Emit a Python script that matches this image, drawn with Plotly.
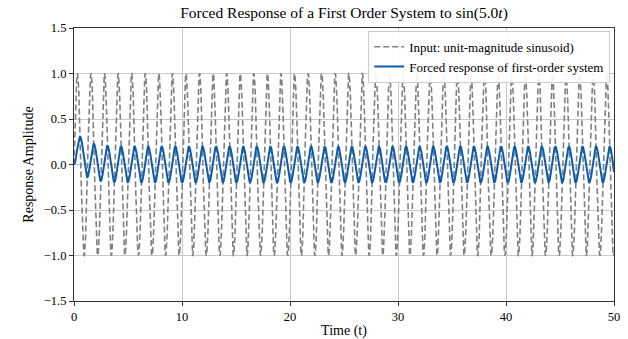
import numpy as np
import plotly.graph_objects as go

# Data definition (system read from title / picture)
input_freq = 5.0          # rad/s, from title sin(5.0 t)
system_pole = 1.0         # first-order system 1/(s+a)
t_start, t_end = 0.0, 50.0
n_samples = 2000

t = np.linspace(t_start, t_end, n_samples)
u = np.sin(input_freq * t)
a, w = system_pole, input_freq
y = (w * np.exp(-a * t) + a * np.sin(w * t) - w * np.cos(w * t)) / (a**2 + w**2)

x_ticks = [0, 10, 20, 30, 40, 50]
y_ticks = [-1.5, -1.0, -0.5, 0.0, 0.5, 1.0, 1.5]
y_tick_labels = ["\u22121.5", "\u22121.0", "\u22120.5", "0.0", "0.5", "1.0", "1.5"]

FONT = "Liberation Serif, DejaVu Serif, serif"

fig = go.Figure()
fig.add_trace(go.Scatter(
    x=t, y=u, mode="lines",
    name="Input: unit-magnitude sinusoid)",
    line=dict(color="#808080", width=1.6, dash="6px,3px"),
))
fig.add_trace(go.Scatter(
    x=t, y=y, mode="lines",
    name="Forced response of first-order system",
    line=dict(color="#0b5cad", width=2),
))

fig.update_layout(
    width=628, height=339,
    margin=dict(l=74, r=14, t=28, b=38, autoexpand=False),
    paper_bgcolor="white", plot_bgcolor="white",
    font=dict(family=FONT, size=12, color="black"),
    title=dict(text="Forced Response of a First Order System to sin(5.0<i>t</i>)",
               x=0.5, xref="paper", xanchor="center",
               yref="container", y=0.962, yanchor="middle",
               font=dict(family=FONT, size=15.5, color="black")),
    showlegend=True,
    legend=dict(x=0.993, y=0.99, xanchor="right", yanchor="top",
                bgcolor="rgba(255,255,255,0.9)", bordercolor="#cccccc", borderwidth=1,
                font=dict(family=FONT, size=13), tracegroupgap=0, itemwidth=30),
)
fig.update_xaxes(
    range=[0, 50], tickvals=x_ticks, ticktext=[str(v) for v in x_ticks],
    showgrid=True, gridcolor="#c8c8c8", gridwidth=1,
    showline=True, linecolor="#333333", linewidth=1.2, mirror=True,
    ticks="outside", ticklen=4, tickcolor="#333333", zeroline=False,
    title=dict(text="Time (t)", font=dict(family=FONT, size=14), standoff=2),
    tickfont=dict(family=FONT, size=12.5), automargin=False,
)
fig.update_yaxes(
    range=[-1.5, 1.5], tickvals=y_ticks, ticktext=y_tick_labels,
    showgrid=True, gridcolor="#c8c8c8", gridwidth=1,
    showline=True, linecolor="#333333", linewidth=1.2, mirror=True,
    ticks="outside", ticklen=4, tickcolor="#333333", zeroline=False,
    title=dict(text="Response Amplitude", font=dict(family=FONT, size=14), standoff=6),
    tickfont=dict(family=FONT, size=12.5), automargin=False,
)

fig.write_html("out.html")
